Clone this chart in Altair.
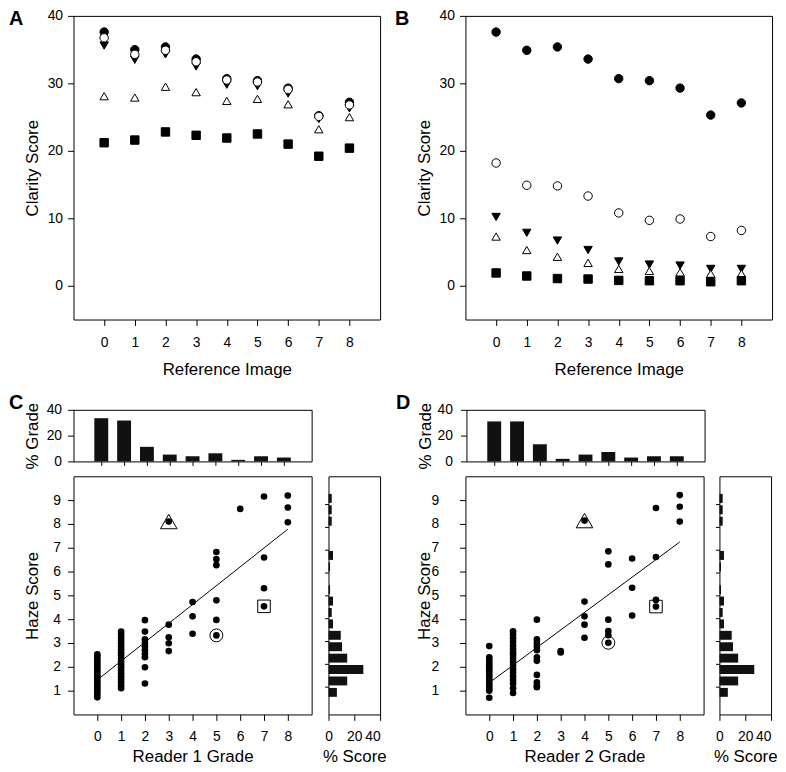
import altair as alt
import pandas as pd

FONT = "Liberation Sans"

# ---------------- Panels A / B : clarity score per reference image ----------------
ref_image = [0, 1, 2, 3, 4, 5, 6, 7, 8]

a_filled_circle = [37.6, 35.0, 35.4, 33.6, 30.7, 30.4, 29.3, 25.2, 27.2]
a_open_circle = [36.75, 34.3, 34.9, 33.2, 30.5, 30.2, 29.1, 25.1, 26.8]
a_filled_down = [35.6, 33.5, 34.3, 32.5, 29.8, 29.6, 28.5, 24.7, 26.3]
a_open_up = [28.1, 27.9, 29.5, 28.7, 27.4, 27.7, 26.9, 23.2, 25.0]
a_filled_square = [21.2, 21.6, 22.8, 22.3, 21.9, 22.5, 21.0, 19.2, 20.4]

b_filled_circle = [37.6, 34.9, 35.4, 33.6, 30.7, 30.4, 29.3, 25.3, 27.1]
b_open_circle = [18.2, 14.9, 14.8, 13.3, 10.8, 9.7, 9.9, 7.3, 8.2]
b_filled_down = [10.2, 7.85, 6.7, 5.3, 3.6, 3.15, 3.0, 2.5, 2.5]
b_open_up = [7.3, 5.3, 4.3, 3.4, 2.5, 2.2, 2.0, 1.8, 1.8]
b_filled_square = [1.9, 1.45, 1.07, 1.0, 0.8, 0.75, 0.75, 0.6, 0.75]

clarity_ticks = [0, 10, 20, 30, 40]

# ---------------- Panels C / D : grade histograms ----------------
grades = [0, 1, 2, 3, 4, 5, 6, 7, 8]
r1_grade_pct = [33.5, 31.7, 11.3, 5.3, 4.0, 6.3, 1.2, 4.0, 3.0]
r2_grade_pct = [31.0, 31.0, 13.3, 2.0, 5.3, 7.3, 3.0, 4.0, 4.0]

# haze score histogram (same in C and D)
haze_bin_center = [0.75, 1.25, 1.75, 2.25, 2.75, 3.25, 3.75, 4.25, 4.75,
                   5.25, 5.75, 6.25, 6.75, 7.25, 7.75, 8.25, 8.75, 9.25]
haze_pct = [6.5, 14.5, 27.0, 14.5, 10.5, 9.5, 3.5, 2.5, 3.5,
            1.2, 0.0, 1.2, 3.5, 0.0, 0.0, 2.5, 2.5, 2.5]
haze_ticks = [1, 2, 3, 4, 5, 6, 7, 8, 9]

# ---------------- scatter points ----------------
r1_grade = ([0] * 19 + [1] * 20 + [2] * 10 + [3] * 5 + [4] * 3 + [5] * 6 + [6] + [7] * 4 + [8] * 3)
r1_haze = ([0.72, 0.85, 0.95, 1.05, 1.15, 1.25, 1.35, 1.45, 1.55, 1.65, 1.75, 1.85, 1.95, 2.05,
            2.15, 2.25, 2.35, 2.45, 2.52]
           + [1.1, 1.22, 1.35, 1.48, 1.6, 1.72, 1.85, 1.98, 2.1, 2.22, 2.35, 2.48, 2.6, 2.72,
              2.85, 2.98, 3.1, 3.22, 3.35, 3.48]
           + [3.96, 3.48, 3.15, 3.0, 2.85, 2.7, 2.55, 2.4, 1.98, 1.3]
           + [8.1, 3.77, 3.24, 2.99, 2.66]
           + [4.72, 4.12, 3.39]
           + [6.82, 6.52, 6.27, 4.79, 3.97, 3.32]
           + [8.63]
           + [9.15, 6.59, 5.3, 4.54]
           + [9.19, 8.69, 8.07])

r2_grade = ([0] * 17 + [1] * 18 + [2] * 11 + [3] * 2 + [4] * 5 + [5] * 6 + [6] * 3 + [7] * 4 + [8] * 3)
r2_haze = ([2.87, 2.4, 2.3, 2.2, 2.1, 2.0, 1.9, 1.8, 1.7, 1.6, 1.5, 1.4, 1.3, 1.2, 1.1, 1.0, 0.7]
           + [3.49, 3.35, 3.2, 3.05, 2.9, 2.75, 2.6, 2.5, 2.35, 2.2, 2.05, 1.9, 1.75, 1.6, 1.45,
              1.3, 1.1, 0.9]
           + [3.98, 3.15, 3.0, 2.85, 2.7, 2.4, 2.25, 1.66, 1.35, 1.2, 1.14]
           + [2.66, 2.6]
           + [8.14, 4.74, 4.12, 3.77, 3.22]
           + [6.85, 6.3, 3.98, 3.5, 3.33, 3.01]
           + [6.55, 5.32, 4.15]
           + [8.67, 6.61, 4.81, 4.53]
           + [9.21, 8.72, 8.1])

# highlighted observations: triangle, circle, square
r1_highlight_grade = [3, 5, 7]
r1_highlight_haze = [8.1, 3.32, 4.54]
r2_highlight_grade = [4, 5, 7]
r2_highlight_haze = [8.14, 3.01, 4.53]

# fitted lines (grade 0 -> 8)
fit_grade = [0, 8]
r1_fit_haze = [1.45, 7.78]
r2_fit_haze = [1.33, 7.24]

# ---------------- layout sizes ----------------
TOP_W, TOP_H = 309, 306
HIST_H = 52
SC_W, SC_H = 240, 240
SIDE_W = 52


def ax(**kw):
    base = dict(grid=False, domain=False, ticks=True, tickColor="black", tickSize=6, tickWidth=1,
                labelFont=FONT, labelFontSize=14, labelColor="black", labelPadding=5,
                titleFont=FONT, titleFontSize=17, titleFontWeight="normal", titleColor="black")
    base.update(kw)
    return alt.Axis(**base)


FRAME = alt.ViewBackground(stroke="black", strokeWidth=1)


def letter(t, x, y):
    return alt.Chart(pd.DataFrame({"t": [t]})).mark_text(
        align="left", baseline="top", font=FONT, fontSize=20, fontWeight="bold", color="black"
    ).encode(text="t:N", x=alt.value(x), y=alt.value(y))


def spacer(w, h):
    return alt.Chart(pd.DataFrame({"v": [0]})).mark_point(opacity=0).encode(
        x=alt.value(0), y=alt.value(0)
    ).properties(width=w, height=h, view=alt.ViewBackground(strokeOpacity=0))


def clarity_panel(fc, oc, dt, tu, sq, t, lx):
    order = [("fc", fc), ("dt", dt), ("tu", tu), ("sq", sq), ("oc", oc)]
    rows = []
    for name, vals in order:
        for i, v in zip(ref_image, vals):
            rows.append({"img": i, "score": v, "series": name})
    df = pd.DataFrame(rows)
    dom = ["fc", "oc", "dt", "tu", "sq"]
    pts = alt.Chart(df).mark_point(filled=True, stroke="black", strokeWidth=1, opacity=1, size=72).encode(
        x=alt.X("img:Q", scale=alt.Scale(domain=[-1, 9], nice=False, zero=False),
                axis=ax(values=ref_image, title="Reference Image", titleY=42, labelPadding=10)),
        y=alt.Y("score:Q", scale=alt.Scale(domain=[-5, 40], nice=False, zero=False),
                axis=ax(values=clarity_ticks, title="Clarity Score", titleX=-32, labelPadding=5)),
        shape=alt.Shape("series:N", scale=alt.Scale(
            domain=dom, range=["circle", "circle", "triangle-down", "triangle-up", "square"]), legend=None),
        fill=alt.Fill("series:N", scale=alt.Scale(
            domain=dom, range=["black", "white", "black", "white", "black"]), legend=None),
    )
    return alt.layer(pts, letter(t, lx, -7)).properties(width=TOP_W, height=TOP_H, view=FRAME)


def grade_hist(pct, t, lx, lpad):
    df = pd.DataFrame({"g": grades, "p": pct})
    bars = alt.Chart(df).mark_bar(size=14, color="#111111").encode(
        x=alt.X("g:Q", scale=alt.Scale(domain=[-1, 9], nice=False, zero=False),
                axis=ax(values=grades, labels=False, title=None, tickSize=4)),
        y=alt.Y("p:Q", scale=alt.Scale(domain=[0, 40], nice=False),
                axis=ax(values=[0, 20, 40], title="% Grade", titleX=-32, labelPadding=lpad)),
    )
    return alt.layer(bars, letter(t, lx, -17)).properties(width=SC_W, height=HIST_H, view=FRAME)


def scatter_panel(gx, hy, hgx, hhy, fit_y, xtitle, lpad):
    xenc = alt.X("g:Q", scale=alt.Scale(domain=[-1, 9], nice=False, zero=False),
                 axis=ax(values=grades, title=xtitle, titleY=34, labelPadding=9))
    yenc = alt.Y("h:Q", scale=alt.Scale(domain=[0, 10], nice=False, zero=False),
                 axis=ax(values=haze_ticks, title="Haze Score", titleX=-32, labelPadding=lpad))
    dots = alt.Chart(pd.DataFrame({"g": gx, "h": hy})).mark_circle(
        size=45, color="black", opacity=1).encode(x=xenc, y=yenc)
    line = alt.Chart(pd.DataFrame({"g": fit_grade, "h": fit_y})).mark_line(
        color="black", strokeWidth=1).encode(x=xenc, y=yenc)
    shapes = [("triangle-up", 280), ("circle", 169), ("square", 160)]
    layers = [dots, line]
    for k, (shp, sz) in enumerate(shapes):
        layers.append(alt.Chart(pd.DataFrame({"g": [hgx[k]], "h": [hhy[k]]})).mark_point(
            shape=shp, size=sz, filled=False, stroke="black", strokeWidth=1, opacity=1
        ).encode(x=xenc, y=yenc))
    return alt.layer(*layers).properties(width=SC_W, height=SC_H, view=FRAME)


def haze_hist():
    df = pd.DataFrame({"h": haze_bin_center, "p": haze_pct})
    return alt.Chart(df).mark_bar(orient="horizontal", size=9, color="#111111").encode(
        x=alt.X("p:Q", scale=alt.Scale(domain=[0, 40], nice=False),
                axis=ax(values=[0, 20, 40], title="% Score", titleY=34, labelPadding=9,
                        labelAlign={"condition": {"test": "datum.value == 40", "value": "right"},
                                    "value": "center"})),
        y=alt.Y("h:Q", scale=alt.Scale(domain=[0, 10], nice=False, zero=False),
                axis=ax(values=haze_ticks, labels=False, title=None, tickSize=4)),
    ).properties(width=SIDE_W, height=SC_H, view=FRAME)


A = clarity_panel(a_filled_circle, a_open_circle, a_filled_down, a_open_up, a_filled_square, "A", -65)
B = clarity_panel(b_filled_circle, b_open_circle, b_filled_down, b_open_up, b_filled_square, "B", -71)
Ch = grade_hist(r1_grade_pct, "C", -65, 6)
Dh = grade_hist(r2_grade_pct, "D", -71, 8)
Cs = scatter_panel(r1_grade, r1_haze, r1_highlight_grade, r1_highlight_haze, r1_fit_haze, "Reader 1 Grade", 7)
Ds = scatter_panel(r2_grade, r2_haze, r2_highlight_grade, r2_highlight_haze, r2_fit_haze, "Reader 2 Grade", 21)
Cr = haze_hist()
Dr = haze_hist()

row1 = alt.hconcat(A, B, spacing=86, bounds="flush")
row2 = alt.hconcat(Ch, Dh, spacing=156, bounds="flush")
row3 = alt.hconcat(Cs, spacer(17, SC_H), Cr, spacer(86, SC_H), Ds, spacer(16, SC_H), Dr,
                   spacing=0, bounds="flush")

gap12 = 14
gap23 = 3
chart = alt.vconcat(row1, alt.vconcat(row2, row3, spacing=gap23), spacing=gap12).properties(
    padding={"left": 0, "top": -3, "right": 0, "bottom": -3}
).configure_view(stroke=None).configure(background="white")

chart.save("out.html", embed_options={"renderer": "svg", "actions": False})
